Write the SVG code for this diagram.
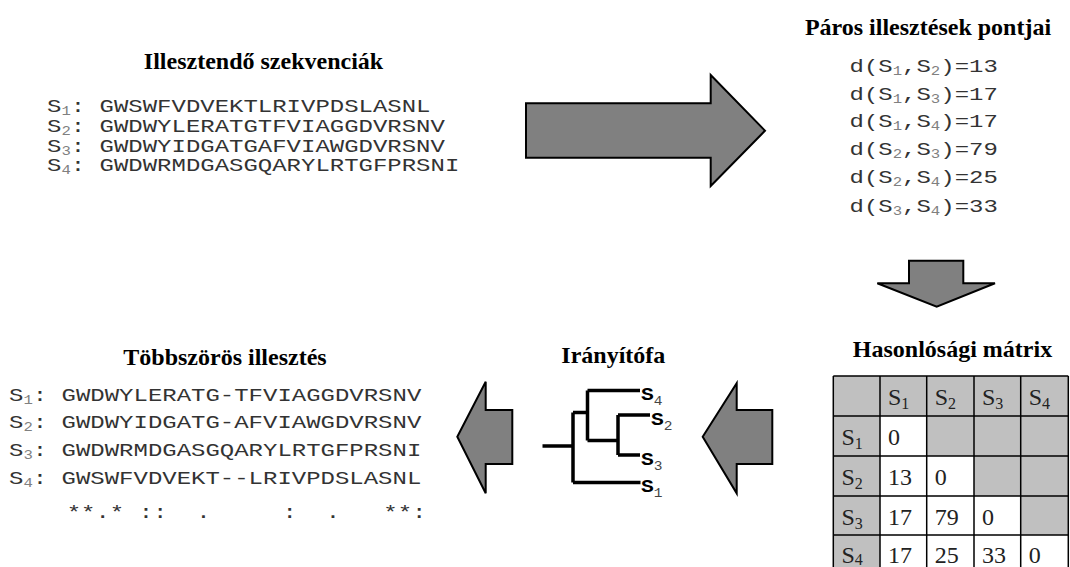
<svg xmlns="http://www.w3.org/2000/svg" width="1070" height="567" viewBox="0 0 1070 567">
<style>
.title{font-family:"Liberation Serif","Times New Roman",serif;font-weight:bold;font-size:24px;fill:#000;text-anchor:middle}
.mono{font-family:"Liberation Mono","Courier New",monospace;font-size:19px;fill:#333}
.sub{font-size:12.4px;fill:#808080}
.arrow{fill:#808080;stroke:#000;stroke-width:2;stroke-linejoin:miter}
.tree{fill:none;stroke:#000;stroke-width:3.5;stroke-linecap:butt;stroke-linejoin:miter}
.tlab{font-family:"Liberation Mono","Courier New",monospace;font-size:19px;font-weight:bold;fill:#000}
.tsub{font-size:13px;font-weight:normal;fill:#444}
.cellg{fill:#c0c0c0}
.cellw{fill:#fff}
.grid{stroke:#000;stroke-width:1.5;fill:none}
.ct{font-family:"Liberation Serif","Times New Roman",serif;font-size:24px;fill:#222}
.cs{font-size:16px}
.stars{font-family:"Liberation Mono","Courier New",monospace;font-size:19px;fill:#333;white-space:pre}
</style>

<g id="input-sequences">
<text class="title" x="263.5" y="69.3">Illesztendő szekvenciák</text>
<text class="mono" transform="translate(47,111.7) scale(1.263,1)">S<tspan class="sub" dy="3">1</tspan><tspan dy="-3">: GWSWFVDVEKTLRIVPDSLASNL</tspan></text>
<text class="mono" transform="translate(47,131.7) scale(1.263,1)">S<tspan class="sub" dy="3">2</tspan><tspan dy="-3">: GWDWYLERATGTFVIAGGDVRSNV</tspan></text>
<text class="mono" transform="translate(47,151.5) scale(1.263,1)">S<tspan class="sub" dy="3">3</tspan><tspan dy="-3">: GWDWYIDGATGAFVIAWGDVRSNV</tspan></text>
<text class="mono" transform="translate(47,171.2) scale(1.263,1)">S<tspan class="sub" dy="3">4</tspan><tspan dy="-3">: GWDWRMDGASGQARYLRTGFPRSNI</tspan></text>
</g>

<g id="pairwise-scores">
<text class="title" x="928" y="35">Páros illesztések pontjai</text>
<text class="mono" transform="translate(849.5,71.7) scale(1.263,1)">d(S<tspan class="sub" dy="3">1</tspan><tspan dy="-3">,S</tspan><tspan class="sub" dy="3">2</tspan><tspan dy="-3">)=13</tspan></text>
<text class="mono" transform="translate(849.5,99.5) scale(1.263,1)">d(S<tspan class="sub" dy="3">1</tspan><tspan dy="-3">,S</tspan><tspan class="sub" dy="3">3</tspan><tspan dy="-3">)=17</tspan></text>
<text class="mono" transform="translate(849.5,127.3) scale(1.263,1)">d(S<tspan class="sub" dy="3">1</tspan><tspan dy="-3">,S</tspan><tspan class="sub" dy="3">4</tspan><tspan dy="-3">)=17</tspan></text>
<text class="mono" transform="translate(849.5,155.1) scale(1.263,1)">d(S<tspan class="sub" dy="3">2</tspan><tspan dy="-3">,S</tspan><tspan class="sub" dy="3">3</tspan><tspan dy="-3">)=79</tspan></text>
<text class="mono" transform="translate(849.5,183.3) scale(1.263,1)">d(S<tspan class="sub" dy="3">2</tspan><tspan dy="-3">,S</tspan><tspan class="sub" dy="3">4</tspan><tspan dy="-3">)=25</tspan></text>
<text class="mono" transform="translate(849.5,211.5) scale(1.263,1)">d(S<tspan class="sub" dy="3">3</tspan><tspan dy="-3">,S</tspan><tspan class="sub" dy="3">4</tspan><tspan dy="-3">)=33</tspan></text>
</g>

<g id="similarity-matrix">
<text class="title" x="952.5" y="357.3">Hasonlósági mátrix</text>
<rect class="cellg" x="833.3" y="376" width="235" height="195"/>
<rect class="cellw" x="880" y="416" width="46.7" height="40"/>
<rect class="cellw" x="880" y="456" width="94" height="40"/>
<rect class="cellw" x="880" y="496" width="140.7" height="39"/>
<rect class="cellw" x="880" y="535" width="188.3" height="36"/>
<path class="grid" d="M833.3 376V571M880 376V571M926.7 376V571M974 376V571M1020.7 376V571M1068.3 376V571M833.3 376H1068.3M833.3 416H1068.3M833.3 456H1068.3M833.3 496H1068.3M833.3 535H1068.3"/>
<text class="ct" x="888" y="405">S<tspan class="cs" dy="3.5">1</tspan></text>
<text class="ct" x="934.7" y="405">S<tspan class="cs" dy="3.5">2</tspan></text>
<text class="ct" x="982" y="405">S<tspan class="cs" dy="3.5">3</tspan></text>
<text class="ct" x="1028.7" y="405">S<tspan class="cs" dy="3.5">4</tspan></text>
<text class="ct" x="841.5" y="445">S<tspan class="cs" dy="3.5">1</tspan></text>
<text class="ct" x="841.5" y="485">S<tspan class="cs" dy="3.5">2</tspan></text>
<text class="ct" x="841.5" y="525">S<tspan class="cs" dy="3.5">3</tspan></text>
<text class="ct" x="841.5" y="563">S<tspan class="cs" dy="1.5">4</tspan></text>
<text class="ct" x="888" y="445">0</text>
<text class="ct" x="888" y="485">13</text>
<text class="ct" x="934.7" y="485">0</text>
<text class="ct" x="888" y="525">17</text>
<text class="ct" x="934.7" y="525">79</text>
<text class="ct" x="982" y="525">0</text>
<text class="ct" x="888" y="563">17</text>
<text class="ct" x="934.7" y="563">25</text>
<text class="ct" x="982" y="563">33</text>
<text class="ct" x="1028.7" y="563">0</text>
</g>

<g id="guide-tree">
<text class="title" x="613.3" y="363.3">Irányítófa</text>
<path class="tree" d="M542.5 446H573M573 412.5V482.5M573 482.5H640.5M573 412.5H587.5M587.5 390.5V440.5M587.5 390.5H640M587.5 440.5H618M618 415V455M618 415H650M618 455H640"/>
<text class="tlab" transform="translate(641,400) scale(1.12,1)">S<tspan class="tsub" dy="5">4</tspan></text>
<text class="tlab" transform="translate(651,424.5) scale(1.12,1)">S<tspan class="tsub" dy="5">2</tspan></text>
<text class="tlab" transform="translate(641,464.5) scale(1.12,1)">S<tspan class="tsub" dy="5">3</tspan></text>
<text class="tlab" transform="translate(641,491.5) scale(1.12,1)">S<tspan class="tsub" dy="5">1</tspan></text>
</g>

<g id="multiple-alignment">
<text class="title" x="225" y="365">Többszörös illesztés</text>
<text class="mono" transform="translate(9,400.7) scale(1.263,1)">S<tspan class="sub" dy="3">1</tspan><tspan dy="-3">: GWDWYLERATG-TFVIAGGDVRSNV</tspan></text>
<text class="mono" transform="translate(9,428.4) scale(1.263,1)">S<tspan class="sub" dy="3">2</tspan><tspan dy="-3">: GWDWYIDGATG-AFVIAWGDVRSNV</tspan></text>
<text class="mono" transform="translate(9,456) scale(1.263,1)">S<tspan class="sub" dy="3">3</tspan><tspan dy="-3">: GWDWRMDGASGQARYLRTGFPRSNI</tspan></text>
<text class="mono" transform="translate(9,483.5) scale(1.263,1)">S<tspan class="sub" dy="3">4</tspan><tspan dy="-3">: GWSWFVDVEKT--LRIVPDSLASNL</tspan></text>
<text class="stars" transform="translate(66.7,518) scale(1.263,1)" xml:space="preserve">**.* ::  .     :  .   **:</text>
</g>

<g id="connectors">
<polygon class="arrow" points="526,103.3 710.7,103.3 710.7,75 765,130.7 710.7,186 710.7,157.7 526,157.7"/>
<polygon class="arrow" points="909,260.7 963.3,260.7 963.3,283.3 995,283.3 936.7,306.7 877.3,283.3 909,283.3"/>
<polygon class="arrow" points="702.7,436.7 736.7,383.3 736.7,410 772.3,410 772.3,464 736.7,464 736.7,493.3"/>
<polygon class="arrow" points="457.3,436.7 485.7,381.7 485.7,410 512.3,410 512.3,464 485.7,464 485.7,493.3"/>
</g>
</svg>
